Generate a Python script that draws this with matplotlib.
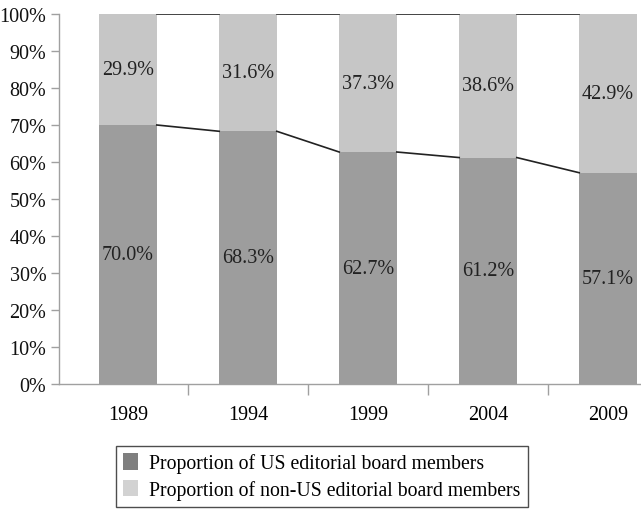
import matplotlib
matplotlib.use("Agg")
import matplotlib.pyplot as plt
from matplotlib.patches import Patch
import numpy as np

years = ["1989", "1994", "1999", "2004", "2009"]
us = [70.0, 68.3, 62.7, 61.2, 57.1]
non_us = [29.9, 31.6, 37.3, 38.6, 42.9]
us_labels = ["70.0%", "68.3%", "62.7%", "61.2%", "57.1%"]
non_us_labels = ["29.9%", "31.6%", "37.3%", "38.6%", "42.9%"]

plt.rcParams['font.family'] = ['Liberation Serif', 'DejaVu Serif']

fig = plt.figure(figsize=(6.41, 5.10), dpi=100)
ax = fig.add_axes([59/641, 125/510, 1 - 59/641, 370/510])

x = np.arange(len(years))
w = 0.48
dark = "#9d9d9d"
light = "#c6c6c6"
us_arr = np.array(us)
non_arr = 100 - us_arr  # stacked to 100
ax.bar(x, us_arr, w, color=dark, zorder=2)
ax.bar(x, non_arr, w, bottom=us_arr, color=light, zorder=2)

# series lines
for i in range(len(x) - 1):
    ax.plot([x[i] + w/2, x[i+1] - w/2], [us[i], us[i+1]], color="#222222", lw=1.2, zorder=3)
    ax.plot([x[i] + w/2, x[i+1] - w/2], [100, 100], color="#222222", lw=1.2, zorder=3)

fs = 14.5
for i in range(len(x)):
    ax.text(x[i], us[i]/2, us_labels[i], ha="center", va="center", fontsize=fs, color="#222222", zorder=4)
    ax.text(x[i], us[i] + (100 - us[i])/2, non_us_labels[i], ha="center", va="center", fontsize=fs, color="#222222", zorder=4)

ax.set_xlim(-0.575, 4.275)
ax.set_ylim(0, 100)
ax.set_yticks(np.arange(0, 101, 10))
ax.set_yticklabels([f"{v}%" for v in range(0, 101, 10)], fontsize=fs)
ax.set_xticks(x)
ax.set_xticklabels(years, fontsize=fs)
ax.tick_params(axis='x', which='major', length=0, pad=15)
ax.set_xticks(x[:-1] + 0.5, minor=True)
ax.tick_params(axis='x', which='minor', length=8, color="#a0a0a0", width=1)
ax.tick_params(axis='y', length=6, color="#a0a0a0", width=1, pad=3, labelcolor="#111111")
for s in ["top", "right"]:
    ax.spines[s].set_visible(False)
for s in ["left", "bottom"]:
    ax.spines[s].set_color("#a0a0a0")
    ax.spines[s].set_linewidth(1)

handles = [Patch(facecolor="#7f7f7f", edgecolor="none", label="Proportion of US editorial board members"),
           Patch(facecolor="#d2d2d2", edgecolor="none", label="Proportion of non-US editorial board members")]
leg = fig.legend(handles=handles, loc="lower left", bbox_to_anchor=(116/641, 2/510), fontsize=14.2,
                 frameon=True, fancybox=False, edgecolor="#222222", handlelength=0.75, handleheight=0.9,
                 handletextpad=0.55, labelspacing=0.32, borderpad=0.38, borderaxespad=0)
leg.get_frame().set_linewidth(1)

fig.savefig("out.png", dpi=100)
